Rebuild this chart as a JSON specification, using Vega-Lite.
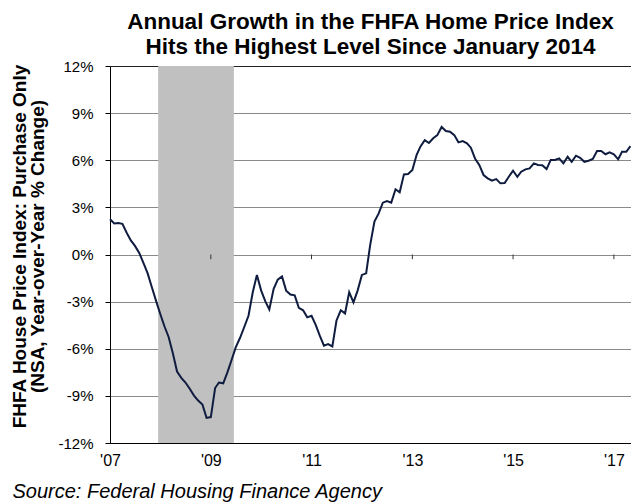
{
  "$schema": "https://vega.github.io/schema/vega-lite/v6.json",
  "width": 521,
  "height": 377,
  "autosize": "none",
  "padding": {"left": 110, "top": 66, "right": 0, "bottom": 59},
  "background": "white",
  "config": {
    "font": "Liberation Sans",
    "view": {"stroke": null},
    "title": {"font": "Liberation Sans", "fontSize": 22.5, "fontWeight": "bold", "color": "black", "lineHeight": 25, "offset": 1}
  },
  "title": {"text": ["Annual Growth in the FHFA Home Price Index", "Hits the Highest Level Since January 2014"], "anchor": "middle"},
  "datasets": {
    "hpi": [
      {"date": "2007-01", "v": 2.24}, {"date": "2007-02", "v": 1.97}, {"date": "2007-03", "v": 2.0}, {"date": "2007-04", "v": 1.95},
      {"date": "2007-05", "v": 1.4}, {"date": "2007-06", "v": 0.9}, {"date": "2007-07", "v": 0.55}, {"date": "2007-08", "v": 0.1},
      {"date": "2007-09", "v": -0.55}, {"date": "2007-10", "v": -1.2}, {"date": "2007-11", "v": -2.1}, {"date": "2007-12", "v": -2.95},
      {"date": "2008-01", "v": -3.8}, {"date": "2008-02", "v": -4.6}, {"date": "2008-03", "v": -5.25}, {"date": "2008-04", "v": -6.3},
      {"date": "2008-05", "v": -7.45}, {"date": "2008-06", "v": -7.85}, {"date": "2008-07", "v": -8.15}, {"date": "2008-08", "v": -8.55},
      {"date": "2008-09", "v": -8.98}, {"date": "2008-10", "v": -9.3}, {"date": "2008-11", "v": -9.55}, {"date": "2008-12", "v": -10.4},
      {"date": "2009-01", "v": -10.35}, {"date": "2009-02", "v": -8.5}, {"date": "2009-03", "v": -8.15}, {"date": "2009-04", "v": -8.2},
      {"date": "2009-05", "v": -7.5}, {"date": "2009-06", "v": -6.7}, {"date": "2009-07", "v": -5.9}, {"date": "2009-08", "v": -5.3},
      {"date": "2009-09", "v": -4.6}, {"date": "2009-10", "v": -3.9}, {"date": "2009-11", "v": -2.4}, {"date": "2009-12", "v": -1.3},
      {"date": "2010-01", "v": -2.3}, {"date": "2010-02", "v": -3.0}, {"date": "2010-03", "v": -3.5}, {"date": "2010-04", "v": -2.2},
      {"date": "2010-05", "v": -1.6}, {"date": "2010-06", "v": -1.4}, {"date": "2010-07", "v": -2.3}, {"date": "2010-08", "v": -2.55},
      {"date": "2010-09", "v": -2.6}, {"date": "2010-10", "v": -3.4}, {"date": "2010-11", "v": -3.55}, {"date": "2010-12", "v": -4.0},
      {"date": "2011-01", "v": -3.9}, {"date": "2011-02", "v": -4.5}, {"date": "2011-03", "v": -5.15}, {"date": "2011-04", "v": -5.8},
      {"date": "2011-05", "v": -5.7}, {"date": "2011-06", "v": -5.85}, {"date": "2011-07", "v": -4.2}, {"date": "2011-08", "v": -3.55},
      {"date": "2011-09", "v": -3.75}, {"date": "2011-10", "v": -2.4}, {"date": "2011-11", "v": -3.05}, {"date": "2011-12", "v": -2.3},
      {"date": "2012-01", "v": -1.3}, {"date": "2012-02", "v": -1.2}, {"date": "2012-03", "v": 0.6}, {"date": "2012-04", "v": 2.1},
      {"date": "2012-05", "v": 2.6}, {"date": "2012-06", "v": 3.3}, {"date": "2012-07", "v": 3.4}, {"date": "2012-08", "v": 3.3},
      {"date": "2012-09", "v": 4.15}, {"date": "2012-10", "v": 3.96}, {"date": "2012-11", "v": 5.1}, {"date": "2012-12", "v": 5.12},
      {"date": "2013-01", "v": 5.38}, {"date": "2013-02", "v": 6.35}, {"date": "2013-03", "v": 6.88}, {"date": "2013-04", "v": 7.28},
      {"date": "2013-05", "v": 7.1}, {"date": "2013-06", "v": 7.4}, {"date": "2013-07", "v": 7.6}, {"date": "2013-08", "v": 8.12},
      {"date": "2013-09", "v": 7.86}, {"date": "2013-10", "v": 7.82}, {"date": "2013-11", "v": 7.6}, {"date": "2013-12", "v": 7.14},
      {"date": "2014-01", "v": 7.22}, {"date": "2014-02", "v": 7.08}, {"date": "2014-03", "v": 6.8}, {"date": "2014-04", "v": 6.1},
      {"date": "2014-05", "v": 5.7}, {"date": "2014-06", "v": 5.06}, {"date": "2014-07", "v": 4.85}, {"date": "2014-08", "v": 4.7},
      {"date": "2014-09", "v": 4.8}, {"date": "2014-10", "v": 4.53}, {"date": "2014-11", "v": 4.55}, {"date": "2014-12", "v": 4.95},
      {"date": "2015-01", "v": 5.33}, {"date": "2015-02", "v": 4.95}, {"date": "2015-03", "v": 5.27}, {"date": "2015-04", "v": 5.42},
      {"date": "2015-05", "v": 5.48}, {"date": "2015-06", "v": 5.8}, {"date": "2015-07", "v": 5.7}, {"date": "2015-08", "v": 5.68},
      {"date": "2015-09", "v": 5.44}, {"date": "2015-10", "v": 6.02}, {"date": "2015-11", "v": 6.02}, {"date": "2015-12", "v": 6.12},
      {"date": "2016-01", "v": 5.8}, {"date": "2016-02", "v": 6.22}, {"date": "2016-03", "v": 5.9}, {"date": "2016-04", "v": 6.29},
      {"date": "2016-05", "v": 6.16}, {"date": "2016-06", "v": 5.9}, {"date": "2016-07", "v": 5.97}, {"date": "2016-08", "v": 6.08},
      {"date": "2016-09", "v": 6.59}, {"date": "2016-10", "v": 6.59}, {"date": "2016-11", "v": 6.38}, {"date": "2016-12", "v": 6.5},
      {"date": "2017-01", "v": 6.38}, {"date": "2017-02", "v": 6.06}, {"date": "2017-03", "v": 6.54}, {"date": "2017-04", "v": 6.54},
      {"date": "2017-05", "v": 6.9}
    ],
    "recession": [{"start": "2007-12-16", "end": "2009-06-17"}],
    "ticks": [{"date": "2009-01"}, {"date": "2011-01"}, {"date": "2013-01"}, {"date": "2015-01"}, {"date": "2017-01"}]
  },
  "layer": [
    {
      "data": {"name": "recession", "format": {"parse": {"start": "date:'%Y-%m-%d'", "end": "date:'%Y-%m-%d'"}}},
      "mark": {"type": "rect", "color": "#c0c0c0"},
      "encoding": {
        "x": {"field": "start", "type": "temporal",
          "scale": {"domain": [{"year": 2007, "month": 1, "date": 1}, {"year": 2017, "month": 5, "date": 5}]},
          "axis": {
            "values": [{"year": 2007, "month": 1, "date": 1}, {"year": 2009, "month": 1, "date": 1}, {"year": 2011, "month": 1, "date": 1}, {"year": 2013, "month": 1, "date": 1}, {"year": 2015, "month": 1, "date": 1}, {"year": 2017, "month": 1, "date": 1}],
            "format": "'%y", "labelFontSize": 16, "labelColor": "black", "labelPadding": 9, "labelFlush": false,
            "ticks": false, "grid": false, "domain": true, "domainColor": "black", "domainWidth": 1,
            "labelFont": "Liberation Sans",
            "title": "Source: Federal Housing Finance Agency",
            "titleFontStyle": "italic", "titleFontWeight": "normal", "titleFontSize": 20, "titleColor": "black",
            "titleX": -98, "titleY": 54, "titleAlign": "left", "titleBaseline": "alphabetic", "titleAnchor": null
          }
        },
        "x2": {"field": "end"}
      }
    },
    {
      "data": {"name": "hpi", "format": {"parse": {"date": "date:'%Y-%m'"}}},
      "mark": {"type": "line", "color": "#0f1c3f", "strokeWidth": 2},
      "encoding": {
        "x": {"field": "date", "type": "temporal"},
        "y": {"field": "v", "type": "quantitative",
          "scale": {"domain": [-12, 12], "nice": false, "zero": false},
          "axis": {
            "values": [-12, -9, -6, -3, 0, 3, 6, 9, 12],
            "labelExpr": "datum.value + '%'",
            "labelFontSize": 15, "labelColor": "black", "labelPadding": 12, "labelFont": "Liberation Sans",
            "tickColor": "black", "tickSize": 5, "domainColor": "black",
            "grid": true, "gridColor": {"condition": {"test": "datum.value === 12 || datum.value === -12", "value": "#222222"}, "value": "#8a8a8a"},
            "gridWidth": 1.2,
            "title": ["FHFA House Price Index: Purchase Only", "(NSA, Year-over-Year % Change)"],
            "titleFontSize": 19, "titleFontWeight": "bold", "titleColor": "black", "titleLineHeight": 18,
            "titleX": -100, "titleY": 180, "titleAngle": -90, "titleAlign": "center", "titleBaseline": "top"
          }
        }
      }
    },
    {
      "data": {"name": "ticks", "format": {"parse": {"date": "date:'%Y-%m'"}}},
      "mark": {"type": "rule", "color": "#333333", "strokeWidth": 1},
      "encoding": {
        "x": {"field": "date", "type": "temporal"},
        "y": {"datum": 0},
        "y2": {"datum": -0.3}
      }
    }
  ]
}
